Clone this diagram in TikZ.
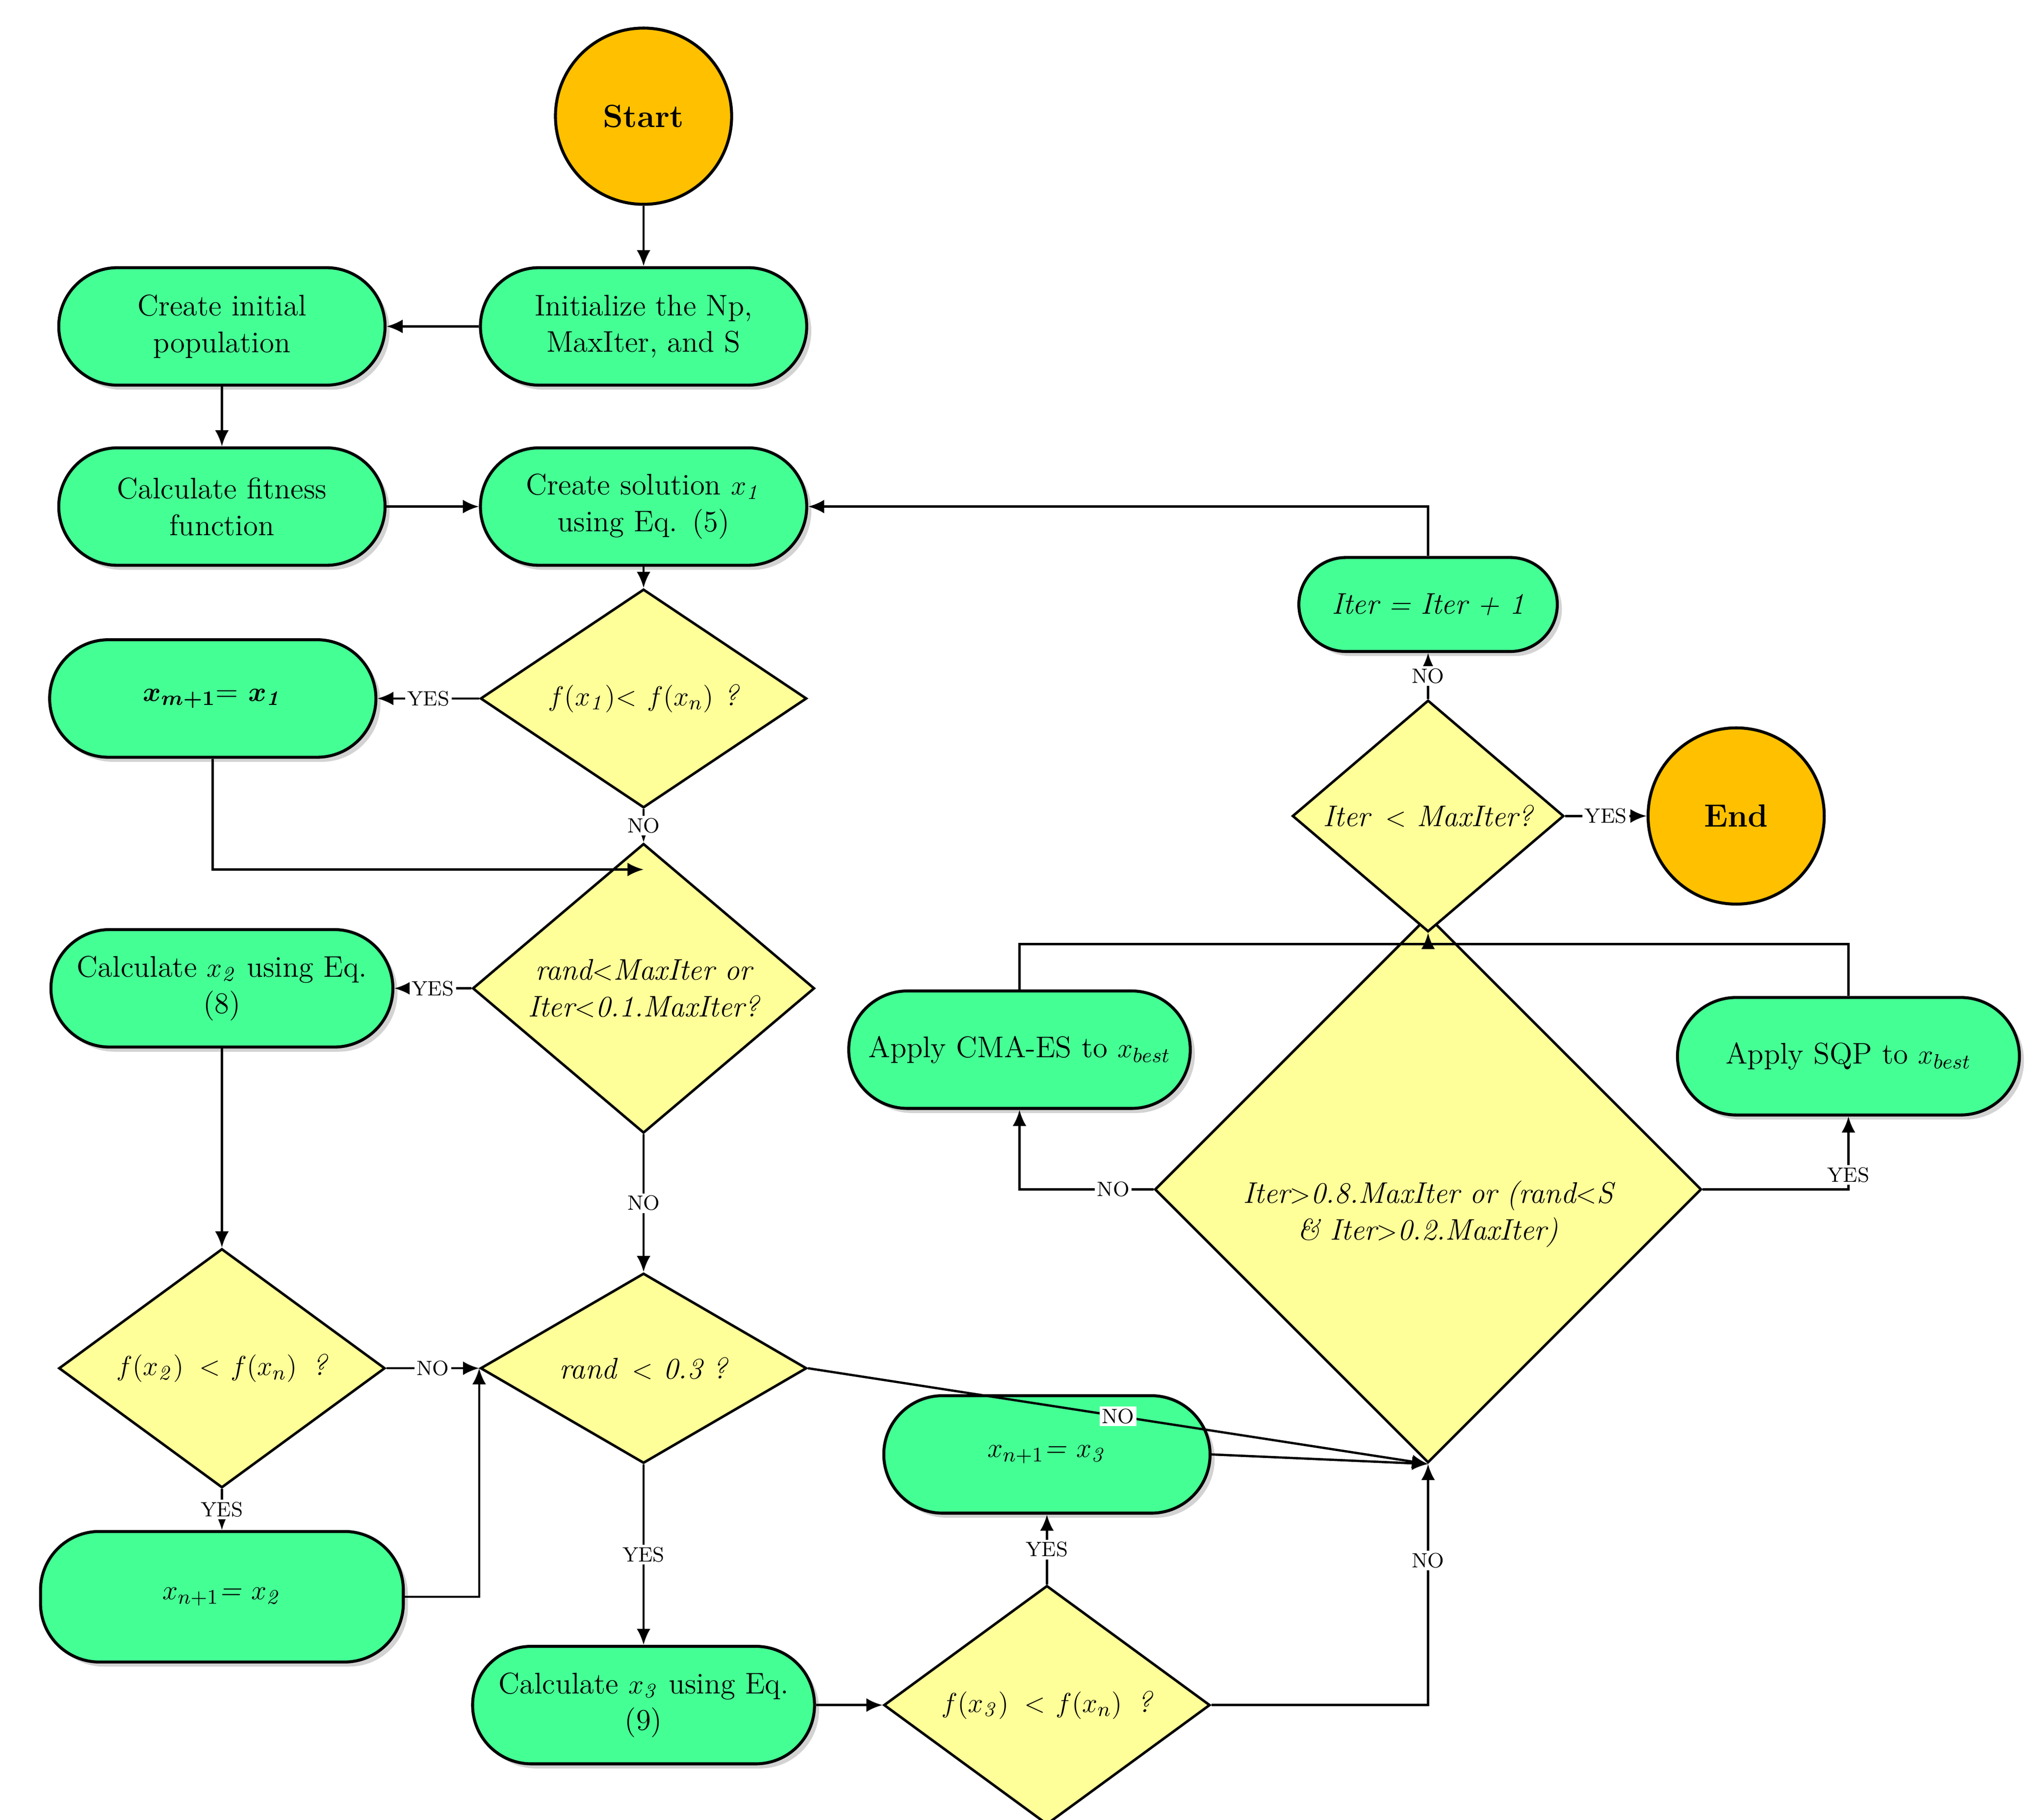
\documentclass[tikz,border=0pt]{standalone}
\usepackage{amsmath}
\usetikzlibrary{shapes.geometric,arrows.meta,shadows}
\definecolor{gr}{HTML}{44FF94}
\definecolor{ye}{HTML}{FFFF99}
\definecolor{orn}{HTML}{FFC000}
\begin{document}
\begin{tikzpicture}[x=0.02cm,y=-0.02cm,
  font=\fontsize{13}{16}\selectfont,
  box/.style={draw,line width=1.3pt,fill=gr,rounded corners=0.9cm,minimum width=5cm,minimum height=1.8cm,align=center,text width=4.4cm,drop shadow={opacity=0.35,shadow xshift=2pt,shadow yshift=-2pt}},
  dia/.style={draw,line width=1.1pt,fill=ye,diamond,inner sep=0pt,minimum width=5cm,minimum height=2.9cm,align=center,font=\fontsize{13}{16}\selectfont\itshape},
  term/.style={draw,line width=1.3pt,fill=orn,circle,minimum size=2.7cm,font=\fontsize{14}{16}\selectfont\bfseries},
  ar/.style={-{Latex[length=7pt,width=6pt]},line width=1pt},
  ln/.style={line width=1pt},
  lab/.style={fill=white,inner sep=1pt,font=\fontsize{9}{10}\selectfont}]
\useasboundingbox (0,0) rectangle (1562,1394);
\node[term] (start) at (493,89) {Start};
\node[box] (init) at (493,250) {Initialize the Np,\\MaxIter, and S};
\node[box] (pop) at (170,250) {Create initial\\population};
\node[box] (fit) at (170,388) {Calculate fitness\\function};
\node[box] (sol) at (493,388) {Create solution $x_{\mathit 1}$\\using Eq. (5)};
\node[dia] (d1) at (493,535) {$f(x_{\mathit 1})$$<$ $f(x_n)$ ?};
\node[box] (xm) at (163,535) {$\boldsymbol{x_{m+1}}$= $\boldsymbol{x_{\mathit 1}}$};
\node[dia,minimum width=5.24cm,minimum height=3.6cm] (d2) at (493,757) {rand$<$MaxIter or\\Iter$<$0.1.MaxIter?};
\node[box,minimum width=5.24cm,text width=4.8cm] (cx2) at (170,757) {Calculate $x_{\mathit 2}$ using Eq.\\(8)};
\node[dia] (d3) at (170,1048) {$f(x_{\mathit 2})$ \,$<$ $f(x_n)$ \,?};
\node[dia] (r3) at (493,1048) {rand \,$<$ 0.3 ?};
\node[box,minimum width=5.56cm,minimum height=2cm] (xn2) at (170,1223) {\itshape $x_{n+1}$= $x_{\mathit 2}$};
\node[box,minimum width=5.24cm,text width=4.8cm] (cx3) at (493,1306) {Calculate $x_{\mathit 3}$ using Eq.\\(9)};
\node[dia] (d4) at (802,1306) {$f(x_{\mathit 3})$ \,$<$ $f(x_n)$ \,?};
\node[box] (xn3) at (802,1114) {\itshape $x_{n+1}$= $x_{\mathit 3}$};
\node[dia,minimum width=8cm,minimum height=5.46cm,text width=6.6cm] (big) at (1094,911) {\raisebox{1.1cm}{}Iter$>$0.8.MaxIter or (rand$<$S \& Iter$>$0.2.MaxIter)\\[1.2cm]};
\node[box,minimum width=5.22cm,text width=5cm] (cma) at (781,804) {Apply CMA-ES to $x_{best}$};
\node[box,minimum width=5.24cm,text width=5cm] (sqp) at (1416,809) {Apply SQP to $x_{best}$};
\node[dia,minimum width=4.16cm,minimum height=2.64cm] (d5) at (1094,625) {Iter \,$<$ MaxIter?};
\node[term] (end) at (1330,625) {End};
\node[box,minimum width=3.96cm,minimum height=1.44cm,rounded corners=0.72cm,text width=3.6cm,font=\fontsize{13}{16}\selectfont\itshape] (inc) at (1094,463) {Iter = Iter + 1};
\coordinate (m1) at (493,666);
\coordinate (j) at (1094,723);
\draw[ar] (start) -- (init);
\draw[ar] (init) -- (pop);
\draw[ar] (pop) -- (fit);
\draw[ar] (fit) -- (sol);
\draw[ar] (sol) -- (d1);
\draw[ar] (d1) -- node[lab]{YES} (xm);
\draw[ar] (d1) -- node[lab]{NO} (d2);
\draw[ar] (xm.south) |- (m1);
\draw[ar] (d2) -- node[lab]{YES} (cx2);
\draw[ar] (d2) -- node[lab]{NO} (r3);
\draw[ar] (cx2) -- (d3);
\draw[ar] (d3) -- node[lab]{NO} (r3);
\draw[ar] (d3) -- node[lab]{YES} (xn2);
\draw[ar] (xn2.east) -| (r3.west);
\draw[ar] (r3) -- node[lab]{YES} (cx3);
\draw[ar] (cx3) -- (d4);
\draw[ar] (d4) -- node[lab]{YES} (xn3);
\draw[ar] (d4.east) -| node[lab,pos=0.8]{NO} (big.south);
\draw[ar] (r3.east) -- node[lab]{NO} (big.south);
\draw[ar] (xn3.east) -- (big.south);
\draw[ar] (big.west) -| node[lab,pos=0.15]{NO} (cma.south);
\draw[ar] (big.east) -| node[lab,pos=0.6]{YES} (sqp.south);
\draw[ln] (cma.north) |- (j);
\draw[ln] (sqp.north) |- (j);
\draw[ar] (j) -- (d5.south);
\draw[ar] (d5) -- node[lab]{YES} (end);
\draw[ar] (d5) -- node[lab]{NO} (inc);
\draw[ar] (inc.north) |- (sol.east);
\end{tikzpicture}
\end{document}
